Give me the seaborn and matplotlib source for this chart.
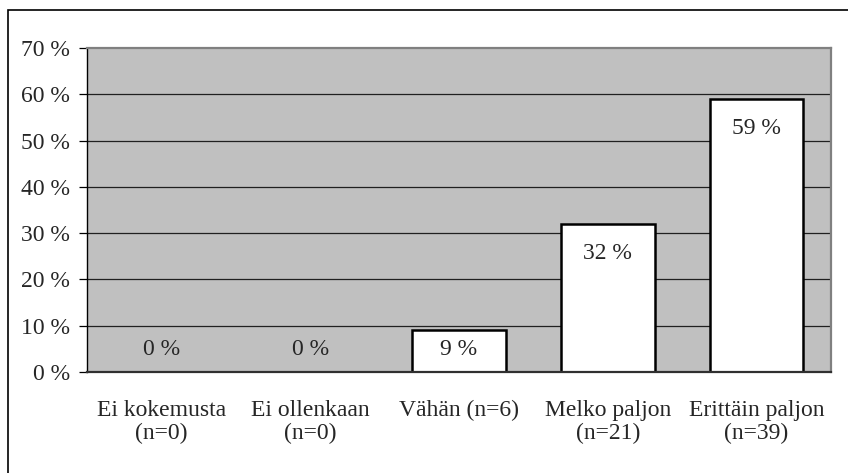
import matplotlib
matplotlib.use("Agg")
import matplotlib.pyplot as plt
import matplotlib.patches as mpatches
import seaborn as sns
import pandas as pd

categories = ["Ei kokemusta\n(n=0)", "Ei ollenkaan\n(n=0)", "Vähän (n=6)",
              "Melko paljon\n(n=21)", "Erittäin paljon\n(n=39)"]
values = [0, 0, 9, 32, 59]
y_ticks = [0, 10, 20, 30, 40, 50, 60, 70]
y_tick_labels = [f"{t} %" for t in y_ticks]

df = pd.DataFrame({"category": categories, "value": values})

sns.set_theme(style="white")
plt.rcParams["font.family"] = ["Liberation Serif", "DejaVu Serif"]

FS = 17

fig = plt.figure(figsize=(8.48, 4.73), dpi=100)
ax = fig.add_axes([87 / 848, 1 - 372 / 473, (831 - 87) / 848, (372 - 48) / 473])

sns.barplot(data=df, x="category", y="value", ax=ax, color="white",
            edgecolor="black", linewidth=1.8, width=0.63, saturation=1)
for patch in ax.patches:
    if patch.get_height() == 0:
        patch.set_linewidth(0)

ax.set_facecolor("#c0c0c0")
ax.set_ylim(0, 70)
ax.set_xlim(-0.5, len(categories) - 0.5)
ax.set_yticks(y_ticks)
ax.set_yticklabels(y_tick_labels, fontsize=FS)
ax.set_xlabel("")
ax.set_ylabel("")

# horizontal gridlines behind bars
for t in y_ticks[1:-1]:
    ax.axhline(t, color="#202020", linewidth=0.9, zorder=0.5)

# category labels centred, tick marks at category boundaries
ax.set_xticks(range(len(categories)))
ax.set_xticklabels(categories, fontsize=FS, linespacing=1.1)
ax.tick_params(axis="x", which="major", length=0, pad=20)
ax.set_xticks([i - 0.5 for i in range(len(categories) + 1)], minor=True)
ax.tick_params(axis="x", which="minor", length=6, width=0.9, color="black", direction="out")
ax.tick_params(axis="y", length=6, width=0.9, color="black", direction="out", pad=6, left=True)

ax.spines["left"].set_color("black")
ax.spines["left"].set_linewidth(1.0)
ax.spines["bottom"].set_color("#303030")
ax.spines["bottom"].set_linewidth(1.6)
for side in ["top", "right"]:
    ax.spines[side].set_color("#808080")
    ax.spines[side].set_linewidth(1.6)

# value labels inside the bars
for i, v in enumerate(values):
    ypos = max(v - 6.4, 4.9)
    ax.text(i, ypos, f"{v} %", ha="center", va="center", fontsize=FS, zorder=5)

# outer chart border
fig.patches.append(mpatches.Rectangle((8 / 848, -0.05), 1.1, 1 - 10 / 473 + 0.05,
                                      transform=fig.transFigure, fill=False,
                                      edgecolor="black", linewidth=1.2))

fig.savefig("out.png", dpi=100)
